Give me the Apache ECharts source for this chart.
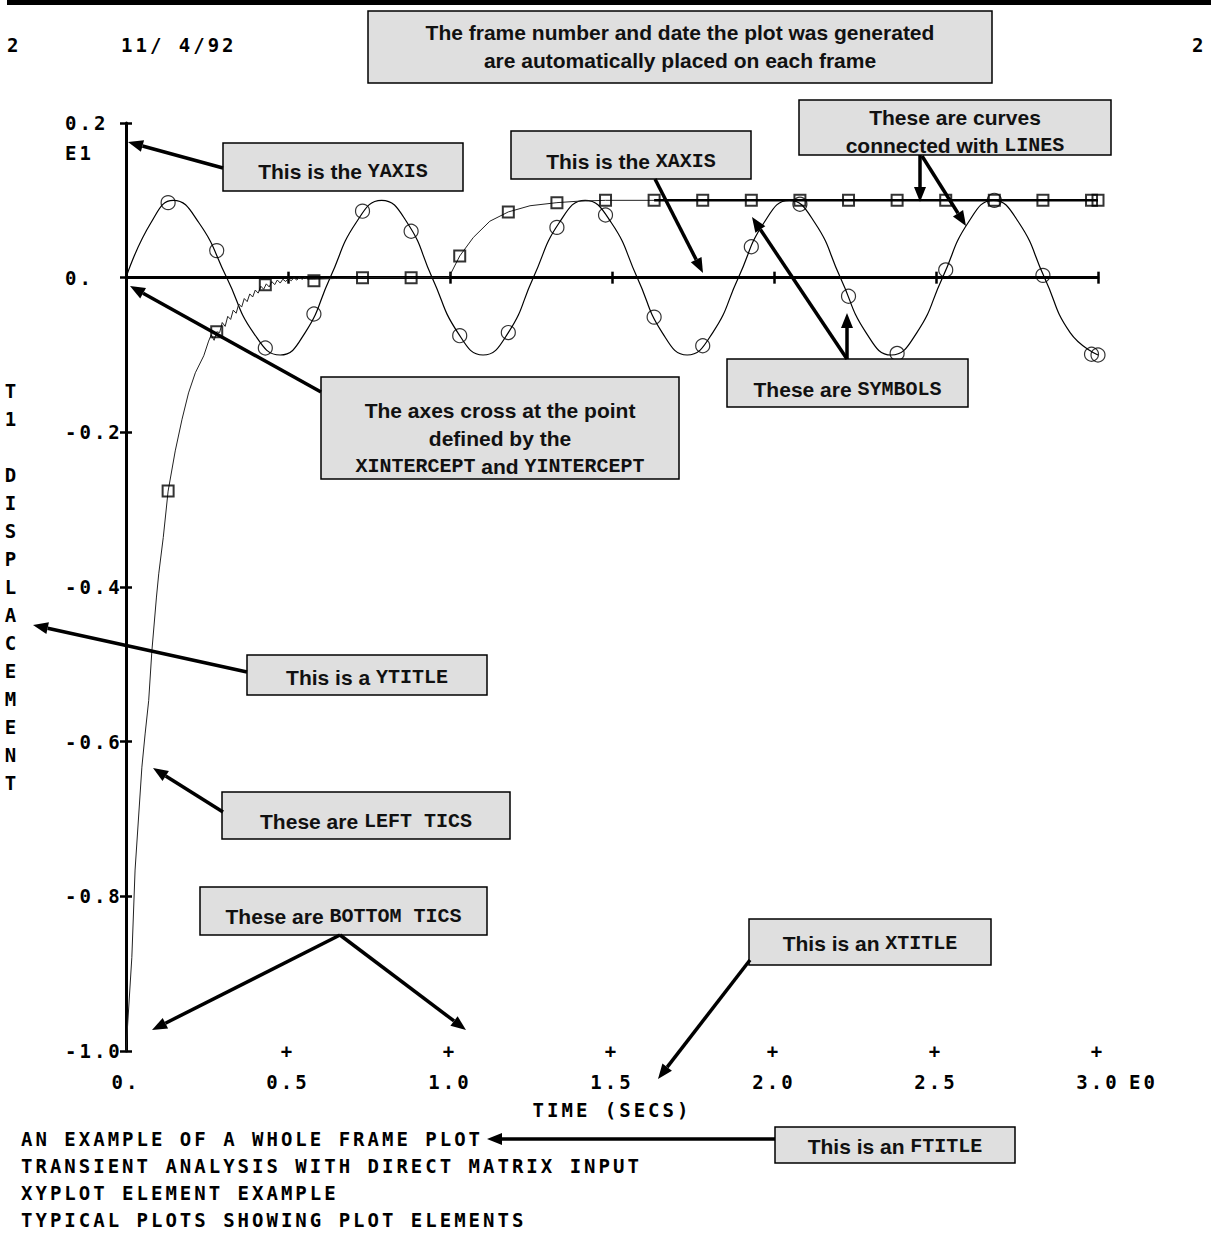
<!DOCTYPE html>
<html>
<head>
<meta charset="utf-8">
<script src="https://cdn.jsdelivr.net/npm/echarts@6.0.0/dist/echarts.min.js"></script>
<style>
  html, body { margin: 0; padding: 0; background: #fff; }
  #chart { width: 1211px; height: 1236px; }
  /* plotter lettering is widely spaced */
  #chart text[style*="DejaVu Sans Mono"] { letter-spacing: 3px; }
</style>
</head>
<body>
<div id="chart"></div>
<script>
// values (time in secs, displacement in E1 units)
const sineTime = [0, 0.077, 0.146, 0.225, 0.311, 0.393, 0.476, 0.553, 0.63, 0.71, 0.789, 0.868, 0.945,
  1.024, 1.102, 1.18, 1.257, 1.337, 1.417, 1.498, 1.578, 1.655, 1.732, 1.811, 1.89, 1.969, 2.047,
  2.126, 2.205, 2.284, 2.362, 2.441, 2.52, 2.599, 2.677, 2.756, 2.835, 2.914, 3.0];
const sineValue = [0, 0.071, 0.1, 0.071, 0, -0.071, -0.1, -0.071, 0, 0.071, 0.1, 0.071, 0,
  -0.071, -0.1, -0.071, 0, 0.071, 0.1, 0.071, 0, -0.071, -0.1, -0.071, 0, 0.071, 0.1,
  0.071, 0, -0.071, -0.1, -0.071, 0, 0.071, 0.1, 0.071, 0, -0.071, -0.1];

const circleTime = [0.13, 0.28, 0.43, 0.58, 0.73, 0.88, 1.03, 1.18, 1.33, 1.48, 1.63, 1.78, 1.93,
  2.08, 2.23, 2.38, 2.53, 2.68, 2.83, 2.98, 3.0];
const circleValue = [0.097, 0.035, -0.091, -0.047, 0.086, 0.06, -0.075, -0.071, 0.065, 0.081, -0.051,
  -0.088, 0.04, 0.095, -0.024, -0.098, 0.01, 0.1, 0.003, -0.099, -0.1];

const stepTime = [0, 0.018, 0.028, 0.049, 0.059, 0.07, 0.08, 0.094, 0.101, 0.115, 0.13, 0.152, 0.173,
  0.193, 0.214, 0.24, 0.255, 0.263, 0.272, 0.28, 0.289, 0.297, 0.306, 0.314, 0.323, 0.331, 0.34,
  0.348, 0.357, 0.365, 0.374, 0.382, 0.391, 0.399, 0.408, 0.416, 0.425, 0.433, 0.442, 0.45, 0.459,
  0.467, 0.476, 0.484, 0.493, 0.501, 0.51, 0.518, 0.527, 0.535, 0.544, 0.552, 0.561, 0.58, 0.65,
  0.73, 0.88, 0.996, 1.03, 1.072, 1.123, 1.18, 1.247, 1.33, 1.4, 1.48, 3.0];
const stepValue = [-1.0, -0.879, -0.766, -0.633, -0.59, -0.547, -0.482, -0.413, -0.383, -0.336, -0.276,
  -0.224, -0.183, -0.149, -0.123, -0.101, -0.082, -0.074, -0.081, -0.07, -0.071, -0.058, -0.063,
  -0.05, -0.054, -0.042, -0.046, -0.034, -0.038, -0.027, -0.031, -0.021, -0.025, -0.016, -0.02,
  -0.011, -0.015, -0.008, -0.012, -0.005, -0.009, -0.003, -0.007, -0.002, -0.005, -0.001, -0.004,
  0, -0.003, 0, -0.002, 0, -0.002, -0.002, -0.001, 0, 0, 0, 0.028, 0.052, 0.073, 0.085, 0.093,
  0.097, 0.099, 0.1, 0.1];

const squareTime = [0.13, 0.28, 0.43, 0.58, 0.73, 0.88, 1.03, 1.18, 1.33, 1.48, 1.63, 1.78, 1.93,
  2.08, 2.23, 2.38, 2.53, 2.68, 2.83, 2.98, 3.0];
const squareValue = [-0.276, -0.07, -0.009, -0.004, 0, 0, 0.028, 0.085, 0.097, 0.1, 0.1, 0.1, 0.1,
  0.1, 0.1, 0.1, 0.1, 0.1, 0.1, 0.1, 0.1];

// the heavy line the step settles on
const plateauTime = [1.63, 3.0];
const plateauValue = [0.1, 0.1];

const footerLines = [
  'AN EXAMPLE OF A WHOLE FRAME PLOT',
  'TRANSIENT ANALYSIS WITH DIRECT MATRIX INPUT',
  'XYPLOT ELEMENT EXAMPLE',
  'TYPICAL PLOTS SHOWING PLOT ELEMENTS'
];
const yTitle = 'T1 DISPLACEMENT';

const PLOT_FONT = 'DejaVu Sans Mono';
const plotText = { fontFamily: PLOT_FONT, fontWeight: 'bold', fontSize: 19, color: '#000' };

function pairs(xs, ys) {
  return xs.map((x, i) => [x, ys[i]]);
}

// callout boxes laid over the plot
const notes = [
  { x: 368, y: 11, w: 624, h: 72, ty: 46, text: 'The frame number and date the plot was generated\nare automatically placed on each frame' },
  { x: 223, y: 143, w: 240, h: 48, ty: 171, text: 'This is the {k|YAXIS}' },
  { x: 511, y: 131, w: 240, h: 48, ty: 161, text: 'This is the {k|XAXIS}' },
  { x: 799, y: 100, w: 312, h: 55, ty: 131, text: 'These are curves\nconnected with {k|LINES}' },
  { x: 727, y: 359, w: 241, h: 48, ty: 389, text: 'These are {k|SYMBOLS}' },
  { x: 321, y: 377, w: 358, h: 102, ty: 438, text: 'The axes cross at the point\ndefined by the\n{k|XINTERCEPT} and {k|YINTERCEPT}' },
  { x: 247, y: 655, w: 240, h: 40, ty: 677, text: 'This is a {k|YTITLE}' },
  { x: 222, y: 792, w: 288, h: 47, ty: 821, text: 'These are {k|LEFT TICS}' },
  { x: 200, y: 887, w: 287, h: 48, ty: 916, text: 'These are {k|BOTTOM TICS}' },
  { x: 749, y: 919, w: 242, h: 46, ty: 943, text: 'This is an {k|XTITLE}' },
  { x: 775, y: 1127, w: 240, h: 36, ty: 1146, text: 'This is an {k|FTITLE}' }
];

const arrows = [
  [223, 168, 128, 142],
  [655, 179, 703, 273],
  [920, 155, 920, 202],
  [922, 156, 966, 226],
  [847, 359, 847, 313],
  [847, 359, 752, 217],
  [321, 392, 130, 286],
  [247, 672, 33, 625],
  [223, 812, 153, 768],
  [340, 935, 152, 1030],
  [340, 935, 466, 1030],
  [750, 960, 658, 1079],
  [775, 1139, 487, 1139]
];

function arrow(x1, y1, x2, y2) {
  const a = Math.atan2(y2 - y1, x2 - x1);
  const len = 15, half = 6;
  const bx = x2 - len * Math.cos(a), by = y2 - len * Math.sin(a);
  const px = -Math.sin(a) * half, py = Math.cos(a) * half;
  return [
    { type: 'line', z: 100, shape: { x1: x1, y1: y1, x2: bx, y2: by }, style: { stroke: '#000', lineWidth: 3.5 } },
    { type: 'polygon', z: 100, shape: { points: [[x2, y2], [bx + px, by + py], [bx - px, by - py]] }, style: { fill: '#000' } }
  ];
}

const graphics = [
  { type: 'rect', z: 50, shape: { x: 7, y: 0, width: 1204, height: 5 }, style: { fill: '#000' } },
  { type: 'text', z: 50, x: 7, y: 45, style: { text: '2', font: 'bold 19px ' + PLOT_FONT, fill: '#000', verticalAlign: 'middle' } },
  { type: 'text', z: 50, x: 121, y: 45, style: { text: '11/ 4/92', font: 'bold 19px ' + PLOT_FONT, fill: '#000', verticalAlign: 'middle' } },
  { type: 'text', z: 50, x: 1192, y: 45, style: { text: '2', font: 'bold 19px ' + PLOT_FONT, fill: '#000', verticalAlign: 'middle' } },
  { type: 'text', z: 50, x: 65, y: 153, style: { text: 'E1', font: 'bold 19px ' + PLOT_FONT, fill: '#000', verticalAlign: 'middle' } },
  { type: 'text', z: 50, x: 1129, y: 1082, style: { text: 'E0', font: 'bold 19px ' + PLOT_FONT, fill: '#000', verticalAlign: 'middle' } }
];

notes.forEach(n => {
  graphics.push({
    type: 'rect', z: 90,
    shape: { x: n.x, y: n.y, width: n.w, height: n.h },
    style: { fill: '#dfdfdf', stroke: '#000', lineWidth: 1.5 }
  });
  graphics.push({
    type: 'text', z: 95, x: n.x + n.w / 2, y: n.ty,
    style: {
      text: n.text,
      font: 'bold 21px Liberation Sans',
      fill: '#111',
      align: 'center',
      verticalAlign: 'middle',
      lineHeight: 28,
      rich: { k: { font: 'bold 20px Liberation Mono', fill: '#111', lineHeight: 28 } }
    }
  });
});
arrows.forEach(a => graphics.push(...arrow(a[0], a[1], a[2], a[3])));

const tickLine = { color: '#000', width: 2.5 };

const chart = echarts.init(document.getElementById('chart'), null, { renderer: 'svg' });
chart.setOption({
  animation: false,
  backgroundColor: '#fff',
  title: {
    text: footerLines.join('\n'),
    left: 21,
    top: 1125,
    padding: 0,
    textStyle: Object.assign({}, plotText, { lineHeight: 27 })
  },
  grid: { left: 126, right: 113, top: 123, bottom: 185, containLabel: false, outerBoundsMode: 'none' },
  xAxis: [
    {
      type: 'value', min: 0, max: 3, interval: 0.5, position: 'bottom',
      axisLine: { show: false, onZero: false },
      axisTick: { show: false },
      splitLine: { show: false },
      axisLabel: {
        margin: -8,
        formatter: v => v === 0 ? '{p| }\n{v|0.}' : '{p|+}\n{v|' + v.toFixed(1) + '}',
        rich: {
          p: Object.assign({}, plotText, { lineHeight: 16 }),
          v: Object.assign({}, plotText, { lineHeight: 46 })
        }
      },
      name: 'TIME (SECS)',
      nameLocation: 'middle',
      nameGap: 49,
      nameMoveOverlap: false,
      nameTextStyle: plotText
    },
    {
      type: 'value', min: 0, max: 3, interval: 0.5, position: 'bottom',
      axisLine: { show: true, onZero: true, onZeroAxisIndex: 0, lineStyle: { color: '#000', width: 3 } },
      axisTick: { show: true, length: 6, lineStyle: tickLine },
      axisLabel: { show: false },
      splitLine: { show: false }
    },
    {
      type: 'value', min: 0, max: 3, interval: 0.5, position: 'top',
      axisLine: { show: false, onZero: true, onZeroAxisIndex: 0 },
      axisTick: { show: true, length: 6, lineStyle: tickLine },
      axisLabel: { show: false },
      splitLine: { show: false }
    }
  ],
  yAxis: [
    {
      type: 'value', min: -1, max: 0.2, interval: 0.2, position: 'left',
      axisLine: { show: true, onZero: false, lineStyle: { color: '#000', width: 3 } },
      axisTick: { show: true, length: 6, lineStyle: tickLine },
      splitLine: { show: false },
      axisLabel: Object.assign({}, plotText, {
        align: 'left',
        margin: 61,
        formatter: v => Math.abs(v) < 1e-9 ? '0.' : v.toFixed(1)
      }),
      name: yTitle.split('').join('\n'),
      nameLocation: 'middle',
      nameGap: 114,
      nameRotate: 0,
      nameMoveOverlap: false,
      nameTextStyle: Object.assign({}, plotText, { lineHeight: 28, align: 'center', verticalAlign: 'middle' })
    },
    {
      type: 'value', min: -1, max: 0.2, interval: 0.2, position: 'right',
      axisLine: { show: false, onZero: true, onZeroAxisIndex: 0 },
      axisTick: { show: true, length: 6, lineStyle: tickLine },
      axisLabel: { show: false },
      splitLine: { show: false }
    }
  ],
  series: [
    {
      type: 'line', name: 'sine', data: pairs(sineTime, sineValue), smooth: 0.5,
      showSymbol: false, lineStyle: { color: '#000', width: 1.2 }, z: 3
    },
    {
      type: 'scatter', name: 'circles', data: pairs(circleTime, circleValue),
      symbol: 'circle', symbolSize: 14,
      itemStyle: { color: 'rgba(0,0,0,0)', borderColor: '#000', borderWidth: 1.2 }, z: 4
    },
    {
      type: 'line', name: 'step', data: pairs(stepTime, stepValue),
      showSymbol: false, lineStyle: { color: '#222', width: 1 }, z: 3
    },
    {
      type: 'line', name: 'plateau', data: pairs(plateauTime, plateauValue),
      showSymbol: false, lineStyle: { color: '#000', width: 2.5 }, z: 3
    },
    {
      type: 'scatter', name: 'squares', data: pairs(squareTime, squareValue),
      symbol: 'rect', symbolSize: 11,
      itemStyle: { color: 'rgba(0,0,0,0)', borderColor: '#000', borderWidth: 2 }, z: 4
    }
  ],
  graphic: graphics
});
</script>
</body>
</html>
